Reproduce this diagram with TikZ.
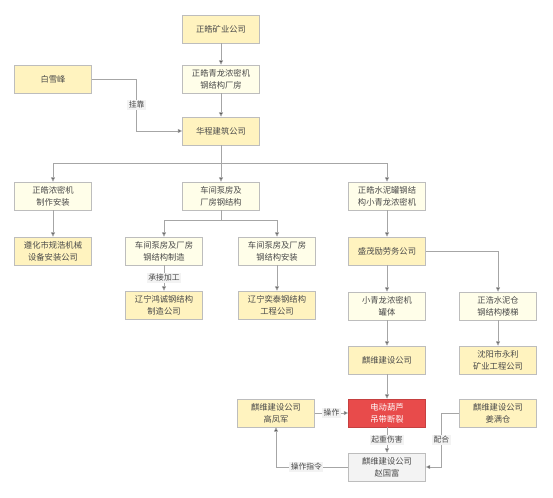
\documentclass[tikz,border=0pt]{standalone}
\usepackage{fontspec}
\newfontfamily\cjk{Noto Sans CJK SC}
\usepackage{tikz}
\usetikzlibrary{arrows.meta,positioning}
\definecolor{firmfill}{HTML}{FFF3BF}
\definecolor{jobfill}{HTML}{FFFEE9}
\definecolor{hurtfill}{HTML}{E84B4B}
\definecolor{manfill}{HTML}{F3F3F3}
\definecolor{boxline}{HTML}{BDBDBD}
\definecolor{wire}{HTML}{A6A6A6}
\definecolor{ink}{HTML}{4A4A4A}
\tikzset{
    box/.style={rectangle, draw=boxline, minimum width=77pt, minimum height=28pt, inner sep=1pt,
        align=center, text=ink, font=\cjk\fontsize{8.3}{12}\selectfont},
    firm/.style={box, fill=firmfill},
    job/.style={box, fill=jobfill},
    hurt/.style={box, fill=hurtfill, draw=hurtfill!85!black, text=white},
    man/.style={box, fill=manfill},
    link/.style={draw=wire, line width=0.7pt, -{Triangle[length=4.5pt,width=4pt,fill=ink]}},
    tag/.style={fill=manfill, text=ink, inner sep=1.5pt, font=\cjk\fontsize{7.8}{9}\selectfont}
}

\begin{document}
\begin{tikzpicture}[x=1pt, y=1pt, on grid]
            \useasboundingbox (0,0) rectangle (553,-497);
            \node[firm] (mine) at (221,-29) {正皓矿业公司};
            \node[job, below=50pt of mine] (plant) {正皓青龙浓密机\\钢结构厂房};
            \node[firm, left=168pt of plant] (bai) {白雪峰};
            \node[firm, below=52pt of plant] (hua) {华程建筑公司};
            \node[job, below=65pt of hua] (che) {车间泵房及\\厂房钢结构};
            \node[job, left=168pt of che] (zz) {正皓浓密机\\制作安装};
            \node[job, right=166pt of che] (zs) {正皓水泥罐钢结\\构小青龙浓密机};
            \node[firm, below=55pt of zz] (zh) {遵化市规浩机械\\设备安装公司};
            \node[job, below left=55pt and 57pt of che] (chz) {车间泵房及厂房\\钢结构制造};
            \node[job, below right=55pt and 56pt of che] (cha) {车间泵房及厂房\\钢结构安装};
            \node[firm, below=55pt of zs] (sm) {盛茂励劳务公司};
            \node[firm, below=54pt of chz] (hc) {辽宁鸿诚钢结构\\制造公司};
            \node[firm, below=54pt of cha] (yt) {辽宁奕泰钢结构\\工程公司};
            \node[job, below=55pt of sm] (xql) {小青龙浓密机\\罐体};
            \node[job, right=111pt of xql] (zhc) {正浩水泥仓\\钢结构楼梯};
            \node[firm, below=54pt of xql] (qw) {麒维建设公司};
            \node[firm, below=54pt of zhc] (yl) {沈阳市永利\\矿业工程公司};
            \node[hurt, below=53pt of qw] (acc) {电动葫芦\\吊带断裂};
            \node[firm, left=111pt of acc] (gfj) {麒维建设公司\\高凤军};
            \node[firm, right=111pt of acc] (jmc) {麒维建设公司\\姜满仓};
            \node[man, below=54pt of acc] (zgf) {麒维建设公司\\赵国富};
            \path[link] (mine) edge (plant);
            \path[link] (plant) edge (hua);
            \draw[link] (bai.east) -- ++(45,0) |- node[tag, pos=0.25] {挂靠} (hua.west);
            \path[link] (hua) edge (che);
            \draw[link] (hua.south) -- ++(0,-18) -| (zz.north);
            \draw[link] (hua.south) -- ++(0,-18) -| (zs.north);
            \path[link] (zz) edge (zh);
            \draw[link] (che.south) -- ++(0,-10) -| (chz.north);
            \draw[link] (che.south) -- ++(0,-10) -| (cha.north);
            \path[link] (chz) edge node[tag] {承接加工} (hc);
            \path[link] (cha) edge (yt);
            \path[link] (zs) edge (sm);
            \path[link] (sm) edge (xql);
            \draw[link] (sm.east) -| (zhc.north);
            \path[link] (xql) edge (qw);
            \path[link] (zhc) edge (yl);
            \path[link] (qw) edge (acc);
            \path[link] (gfj) edge node[tag] {操作} (acc);
            \path[link] (acc) edge node[tag] {起重伤害} (zgf);
            \draw[link] (jmc.west) -- ++(-18,0) |- node[tag, pos=0.25] {配合} (zgf.east);
            \draw[link] (zgf.west) -| node[tag, pos=0.29] {操作指令} (gfj.south);
        \end{tikzpicture}
\end{document}
